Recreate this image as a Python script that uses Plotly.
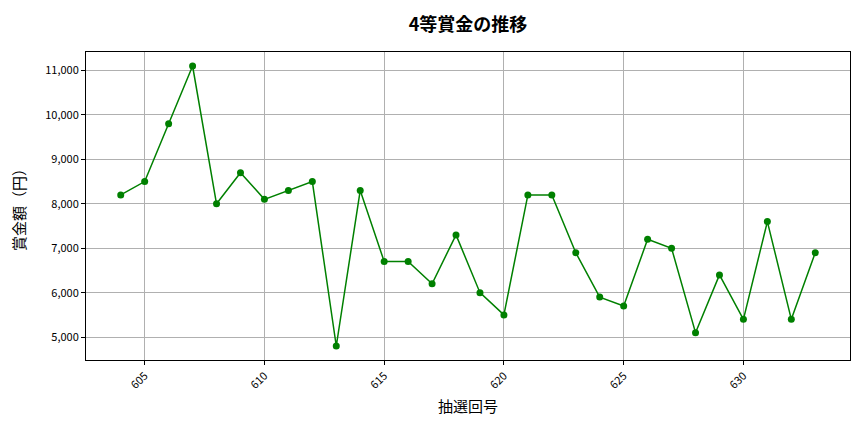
import plotly.graph_objects as go

# draw numbers and 4th prize amounts (yen)
draws = list(range(604, 634))
prizes = [8200, 8500, 9800, 11100, 8000, 8700, 8100, 8300, 8500, 4800,
          8300, 6700, 6700, 6200, 7300, 6000, 5500, 8200, 8200, 6900,
          5900, 5700, 7200, 7000, 5100, 6400, 5400, 7600, 5400, 6900]

x_ticks = [605, 610, 615, 620, 625, 630]
y_ticks = [5000, 6000, 7000, 8000, 9000, 10000, 11000]

font_name = "Noto Sans CJK JP"

fig = go.Figure()
fig.add_trace(go.Scatter(
    x=draws, y=prizes, mode="lines+markers",
    line=dict(color="green", width=1.5),
    marker=dict(color="green", size=7),
    showlegend=False,
))

# page body has an 8px margin, so the figure is shrunk/shifted to compensate
fig.update_layout(
    width=856, height=424,
    margin=dict(l=78, r=14, t=44, b=72),
    paper_bgcolor="white", plot_bgcolor="white",
    font=dict(family=font_name, size=11, color="black"),
    title=dict(text="<b>4等賞金の推移</b>", x=0.5, xref="paper", xanchor="center",
               y=0.96, yanchor="middle", font=dict(size=18, family=font_name)),
)
fig.update_xaxes(
    range=[602.55, 634.45], tickvals=x_ticks, tickangle=-45,
    showgrid=True, gridcolor="#b0b0b0", gridwidth=0.8,
    showline=True, linecolor="black", mirror=True, linewidth=1,
    ticks="outside", ticklen=4, tickcolor="black", zeroline=False,
    automargin=False,
    title=dict(text="抽選回号", font=dict(size=15), standoff=10),
)
fig.update_yaxes(
    range=[4485, 11415], tickvals=y_ticks, tickformat=",d",
    showgrid=True, gridcolor="#b0b0b0", gridwidth=0.8,
    showline=True, linecolor="black", mirror=True, linewidth=1,
    ticks="outside", ticklen=4, tickcolor="black", zeroline=False,
    automargin=False,
    title=dict(text="賞金額（円）", font=dict(size=15), standoff=18),
)

fig.write_html("out.html")
